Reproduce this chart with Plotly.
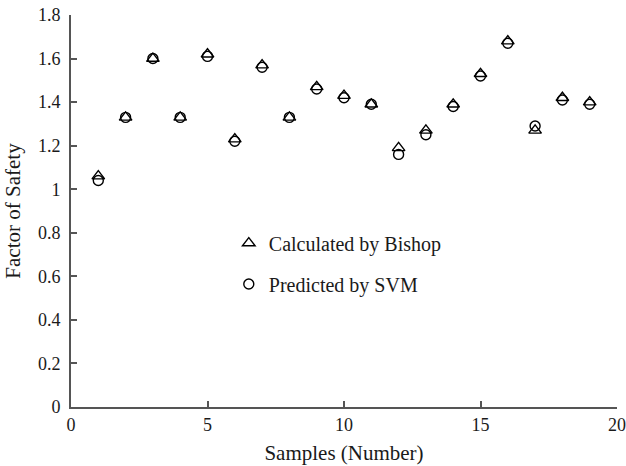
import plotly.graph_objects as go

# Sample index and factor of safety values
samples = list(range(1, 20))
bishop = [1.06, 1.33, 1.60, 1.33, 1.62, 1.23, 1.57, 1.33, 1.47, 1.43,
          1.39, 1.19, 1.27, 1.39, 1.53, 1.68, 1.27, 1.42, 1.40]
svm = [1.04, 1.33, 1.60, 1.33, 1.61, 1.22, 1.56, 1.33, 1.46, 1.42,
       1.39, 1.16, 1.25, 1.38, 1.52, 1.67, 1.29, 1.41, 1.39]

x_ticks = [0, 5, 10, 15, 20]
y_ticks = [0, 0.2, 0.4, 0.6, 0.8, 1.0, 1.2, 1.4, 1.6, 1.8]
y_tick_text = ["0", "0.2", "0.4", "0.6", "0.8", "1", "1.2", "1.4", "1.6", "1.8"]

FONT = "Liberation Serif"
AXIS_COLOR = "#555555"
TEXT_COLOR = "#1a1a1a"

fig = go.Figure()
fig.add_trace(go.Scatter(
    x=samples, y=bishop, mode="markers", name="Calculated by Bishop",
    legendgroup="a",
    marker=dict(symbol="triangle-up-open", size=11, color="black",
                line=dict(width=1.4, color="black")),
))
fig.add_trace(go.Scatter(
    x=samples, y=svm, mode="markers", name="Predicted by SVM",
    legendgroup="b",
    marker=dict(symbol="circle-open", size=10, color="black",
                line=dict(width=1.4, color="black")),
))

axis_common = dict(
    showgrid=False, zeroline=False, showline=True, linecolor=AXIS_COLOR,
    linewidth=2, ticks="inside", ticklen=6, tickcolor=AXIS_COLOR, tickwidth=1.5,
    tickfont=dict(family=FONT, size=18, color=TEXT_COLOR),
    mirror=False, automargin=False,
)

fig.update_layout(
    width=626, height=466,
    margin=dict(l=71, r=9, t=15, b=59),
    paper_bgcolor="white", plot_bgcolor="white",
    font=dict(family=FONT, color=TEXT_COLOR),
    showlegend=True,
    legend=dict(
        x=0.289, y=0.468, xanchor="left", yanchor="top",
        bgcolor="rgba(0,0,0,0)", font=dict(family=FONT, size=20, color=TEXT_COLOR),
        tracegroupgap=12, itemwidth=30,
    ),
    xaxis=dict(
        range=[0, 20], tickvals=x_ticks,
        title=dict(text="Samples (Number)", font=dict(family=FONT, size=21), standoff=12),
        **axis_common,
    ),
    yaxis=dict(
        range=[0, 1.8], tickvals=y_ticks, ticktext=y_tick_text,
        ticklabelstandoff=5,
        title=dict(text="Factor of Safety", font=dict(family=FONT, size=21), standoff=12),
        **axis_common,
    ),
)

fig.write_html("out.html")
